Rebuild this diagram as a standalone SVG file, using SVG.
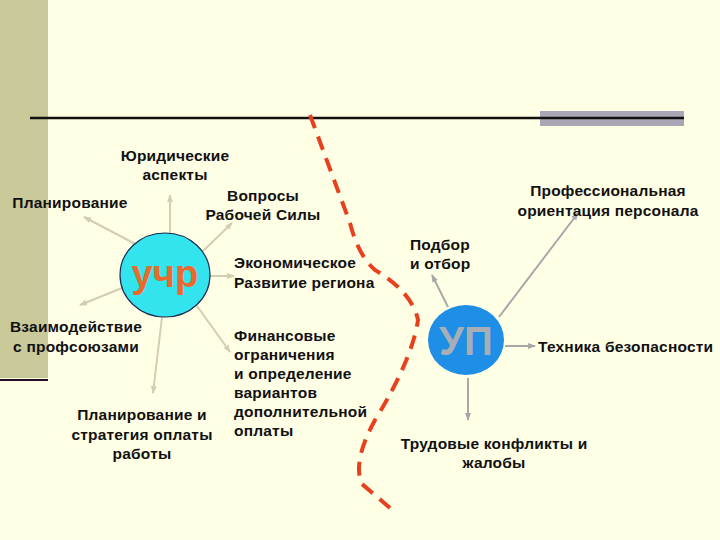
<svg xmlns="http://www.w3.org/2000/svg" width="720" height="540" viewBox="0 0 720 540">
<defs>
<marker id="a1" markerWidth="8" markerHeight="8" refX="7" refY="4" orient="auto" markerUnits="userSpaceOnUse"><path d="M0,1 L8,4 L0,7 Z" fill="#d4cdb0"/></marker>
<marker id="a2" markerWidth="8" markerHeight="8" refX="7" refY="4" orient="auto" markerUnits="userSpaceOnUse"><path d="M0,1 L8,4 L0,7 Z" fill="#a8a8a8"/></marker>
</defs>
<style>
text{font-family:"Liberation Sans",Arial,sans-serif;font-weight:bold;font-size:15.5px;letter-spacing:0.2px;fill:#111}
.l1{stroke:#d4cdb0;stroke-width:2;marker-end:url(#a1)}
.l2{stroke:#a8a8a8;stroke-width:2;marker-end:url(#a2)}
</style>
<rect width="720" height="540" fill="#ffffe6"/>
<rect x="0" y="0" width="48" height="378" fill="#c9c99a"/>
<line x1="0" y1="380" x2="48" y2="380" stroke="#2a0a20" stroke-width="2"/>
<rect x="540" y="111" width="144" height="15" fill="#aaa6b6"/>
<line x1="30" y1="118" x2="684" y2="118" stroke="#111" stroke-width="2.5"/>
<path d="M310,115 L350,223 Q358,255 375,270 Q412,292 418,320 Q412,360 375,420 Q352,462 362,484 L390,508" fill="none" stroke="#e8401c" stroke-width="4" stroke-dasharray="14,9"/>
<g id="connectors">
<line class="l1" x1="143" y1="248" x2="84" y2="217"/>
<line class="l1" x1="170" y1="233" x2="170" y2="195"/>
<line class="l1" x1="203" y1="251" x2="232" y2="223"/>
<line class="l1" x1="210" y1="276" x2="234" y2="276"/>
<line class="l1" x1="122" y1="288" x2="80" y2="305"/>
<line class="l1" x1="162" y1="317" x2="153" y2="393"/>
<line class="l1" x1="197" y1="306" x2="230" y2="352"/>
<line class="l2" x1="448" y1="307" x2="432" y2="275"/>
<line class="l2" x1="499" y1="317" x2="578" y2="213"/>
<line class="l2" x1="505" y1="346" x2="535" y2="346"/>
<line class="l2" x1="468" y1="378" x2="468" y2="420"/>
</g>
<g id="uchr"><ellipse cx="165" cy="275" rx="45" ry="42" fill="#33e4ee" stroke="#1a2a50" stroke-width="1.2"/>
<text x="165" y="287" text-anchor="middle" style="font-size:38px;fill:#ea6a2c">учр</text></g>
<g id="up"><ellipse cx="466" cy="340" rx="38" ry="35" fill="#1e8ee6"/>
<text x="466" y="355" text-anchor="middle" style="font-size:40px;fill:#a8aeb6">УП</text></g>
<g id="n1"><text x="175" y="161" text-anchor="middle">Юридические</text><text x="175" y="180" text-anchor="middle">аспекты</text></g>
<g id="n2"><text x="70" y="208" text-anchor="middle">Планирование</text></g>
<g id="n3"><text x="263" y="201" text-anchor="middle">Вопросы</text><text x="263" y="220" text-anchor="middle">Рабочей Силы</text></g>
<g id="n4"><text x="234" y="268">Экономическое</text><text x="234" y="288">Развитие региона</text></g>
<g id="n5"><text x="76" y="332" text-anchor="middle">Взаимодействие</text><text x="76" y="352" text-anchor="middle">с профсоюзами</text></g>
<g id="n6"><text x="234" y="341">Финансовые</text><text x="234" y="360">ограничения</text><text x="234" y="379">и определение</text><text x="234" y="398">вариантов</text><text x="234" y="417">дополнительной</text><text x="234" y="436">оплаты</text></g>
<g id="n7"><text x="142" y="420" text-anchor="middle">Планирование и</text><text x="142" y="440" text-anchor="middle">стратегия оплаты</text><text x="142" y="459" text-anchor="middle">работы</text></g>
<g id="n8"><text x="608" y="196" text-anchor="middle">Профессиональная</text><text x="608" y="216" text-anchor="middle">ориентация персонала</text></g>
<g id="n9"><text x="410" y="250">Подбор</text><text x="410" y="269">и отбор</text></g>
<g id="n10"><text x="538" y="352">Техника безопасности</text></g>
<g id="n11"><text x="494" y="449" text-anchor="middle">Трудовые конфликты и</text><text x="494" y="468" text-anchor="middle">жалобы</text></g>
</svg>
